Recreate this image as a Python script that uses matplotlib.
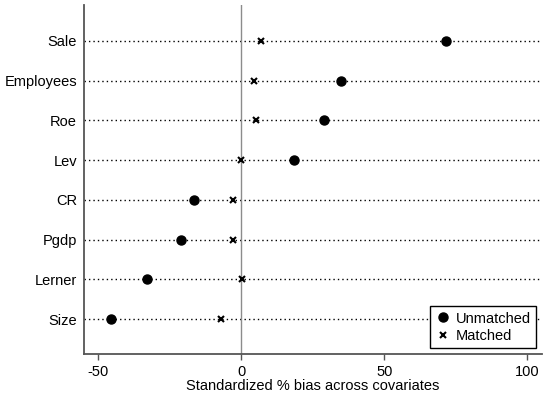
import matplotlib
matplotlib.use("Agg")
import matplotlib.pyplot as plt

plt.rcParams['font.family'] = ['Liberation Sans', 'DejaVu Sans']

variables = ["Sale", "Employees", "Roe", "Lev", "CR", "Pgdp", "Lerner", "Size"]
unmatched = [71.4, 34.7, 29.0, 18.3, -16.4, -21.2, -32.9, -45.7]
matched = [6.9, 4.4, 5.1, -0.2, -2.9, -3.0, 0.2, -7.2]
xticks = [-50, 0, 50, 100]

fig = plt.figure(figsize=(5.5, 3.97), dpi=100)
ax = fig.add_axes([0.1527, 0.108, 0.8323, 0.879])

n = len(variables)
ypos = list(range(n, 0, -1))

ax.set_xlim(-55, 105)
ax.set_ylim(0.12, n + 0.9)

for y in ypos:
    ax.axhline(y, color='black', linestyle=(0, (1, 2.2)), linewidth=1.0, zorder=1)
ax.axvline(0, color='#8c8c8c', linewidth=1.0, zorder=1)

ax.plot(unmatched, ypos, 'o', color='black', markersize=6.5, linestyle='none',
        label='Unmatched', zorder=3)
ax.plot(matched, ypos, 'x', color='black', markersize=4, markeredgewidth=1.5,
        linestyle='none', label='Matched', zorder=3)

fs = 10.5
ax.set_yticks(ypos)
ax.set_yticklabels(variables, fontsize=fs)
ax.set_xticks(xticks)
ax.set_xticklabels([str(t) for t in xticks], fontsize=fs)
ax.set_xlabel("Standardized % bias across covariates", fontsize=fs, labelpad=0)

for s in ['top', 'right']:
    ax.spines[s].set_visible(False)
ax.spines['left'].set_color('#555555')
ax.spines['bottom'].set_color('#555555')
ax.spines['left'].set_linewidth(1.3)
ax.spines['bottom'].set_linewidth(1.3)
ax.tick_params(axis='y', length=0, pad=5)
ax.tick_params(axis='x', length=4, color='#555555', width=1, pad=4)

leg = ax.legend(loc='lower right', fontsize=fs, frameon=True, fancybox=False,
                edgecolor='black', framealpha=1, handletextpad=0.4,
                borderaxespad=0.4, handlelength=1.0, borderpad=0.35,
                labelspacing=0.25)
leg.get_frame().set_linewidth(1.0)

fig.savefig("out.png", dpi=100)
